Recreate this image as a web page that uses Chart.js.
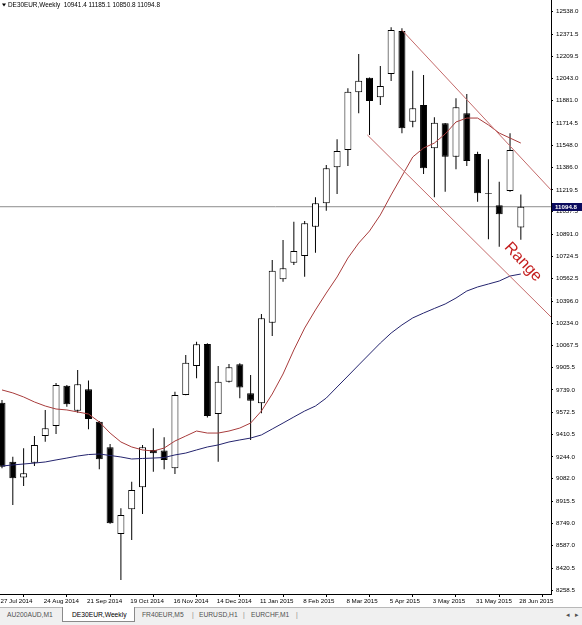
<!DOCTYPE html>
<html>
<head>
<meta charset="utf-8">
<script src="https://cdn.jsdelivr.net/npm/chart.js@4/dist/chart.umd.min.js"></script>
<style>
html,body{margin:0;padding:0;background:#fff;width:582px;height:625px;overflow:hidden;}
#wrap{position:absolute;left:0;top:0;width:582px;height:607px;}
#tabs{position:absolute;left:0;top:607px;width:582px;height:18px;background:#f0f0f0;border-top:1px solid #b8b8b8;box-sizing:border-box;font-family:"Liberation Sans",Arial,sans-serif;font-size:6.7px;color:#505050;}
#tabs span{position:absolute;top:3px;white-space:nowrap;}
#tabs .sep{color:#8a8a8a;}
#tabs .act{top:-1px;height:15px;line-height:15px;background:#fff;border:1px solid #8a8a8a;border-top:none;color:#000;padding:0 8px 0 9px;box-sizing:border-box;}
</style>
</head>
<body>
<div id="wrap"><canvas id="c" width="582" height="607"></canvas></div>
<div id="tabs">
  <span style="left:7px">AU200AUD,M1</span>
  <span class="act" style="left:62px;width:73px">DE30EUR,Weekly</span>
  <span style="left:142px">FR40EUR,M5</span>
  <span class="sep" style="left:192px">|</span>
  <span style="left:199px">EURUSD,H1</span>
  <span class="sep" style="left:243px">|</span>
  <span style="left:251px">EURCHF,M1</span>
  <span class="sep" style="left:296px">|</span>
  <span style="left:566px">&#9666;</span>
  <span style="left:575px">&#9656;</span>
</div>
<script>
// ---- data ----
const symbolTitle = 'DE30EUR,Weekly';
const dateLabels = ['27 Jul 2014','24 Aug 2014','21 Sep 2014','19 Oct 2014','16 Nov 2014','14 Dec 2014','11 Jan 2015','8 Feb 2015','8 Mar 2015','5 Apr 2015','3 May 2015','31 May 2015','28 Jun 2015'];
const priceTicks = [12538.0,12371.5,12209.5,12043.0,11881.0,11714.5,11548.0,11386.0,11219.5,11057.5,10891.0,10724.5,10562.5,10396.0,10234.0,10067.5,9905.5,9739.0,9572.5,9410.5,9244.0,9082.0,8915.5,8749.0,8587.0,8420.5,8258.5];

const opens  = [9645,9208,9092,9200,9398,9472,9770,9585,9744,9504,9315,8673,8856,9019,9295,9290,9159,9702,9916,10079,9561,9800,9929,9714,9640,10236,10558,10681,10730,10947,11120,11387,11515,11942,12050,11905,12077,12395,11724,11848,11527,11712,11465,11786,11485,11196,11105,11211,10941.4];
const highs  = [9665,9245,9307,9398,9591,9790,9775,9887,9808,9510,9339,8863,9060,9332,9455,9389,9726,9998,10096,10085,9916,9931,9936,9850,10301,10701,10849,10984,10989,11165,11404,11594,11971,12225,12052,12136,12423,12415,12101,12070,11757,11715,11897,11929,11502,11446,11280,11638,11185.1];
const lows   = [9160,8888,9028,9176,9356,9413,9615,9571,9448,9152,8748,8333,8629,8821,9134,9152,9117,9700,9825,9536,9208,9795,9677,9369,9566,10138,10540,10664,10577,10755,11065,11189,11396,11786,11626,11848,12025,11638,11683,11337,11165,11206,11372,11396,11132,10854,10799,11206,10850.8];
const closes = [9171,9085,9122,9332,9455,9776,9633,9781,9524,9226,8752,8814,8999,9315,9270,9221,9702,9941,10077,9546,9800,9907,9758,9659,10269,10621,10639,10767,10972,11120,11379,11507,11946,12027,11877,11988,12403,11675,11823,11379,11717,11465,11831,11433,11194,11190,11039,11515,11094.8];

const maFast = [9739,9717,9687,9650,9620,9598,9591,9576,9561,9502,9420,9354,9317,9295,9287,9309,9361,9398,9435,9420,9420,9435,9457,9494,9583,9709,9857,10035,10197,10331,10456,10575,10715,10826,10915,11034,11182,11322,11463,11529,11566,11633,11722,11751,11751,11700,11640,11603,11566];
const maSlow = [9176,9184,9191,9198,9206,9221,9235,9250,9261,9265,9254,9243,9228,9232,9235,9239,9258,9272,9295,9317,9332,9354,9369,9383,9406,9450,9494,9539,9583,9620,9679,9761,9842,9924,10005,10086,10160,10220,10272,10308,10342,10375,10419,10471,10501,10523,10545,10582,10597];

// trend lines: [bar index, price]
const upperTrendX = [37.0, 50.79];
const upperTrendY = [12402, 11219];
const lowerTrendX = [33.8, 50.79];
const lowerTrendY = [11626, 10279];
const rangeLabel = {text:'Range', x:48.2, y:10686};

const xMin = -0.185, xMax = 50.79, yMin = 8229, yMax = 12624.6;
const lastIdx = closes.length - 1;

// ---- styles ----
const FONT = '"Liberation Sans", Arial, sans-serif';
const up = opens.map((o,i)=> closes[i] >= o);

const overlay = {
  id:'overlay',
  afterDraw(chart){
    const {ctx, scales:{x, y}, chartArea} = chart;
    ctx.save();
    // title
    ctx.fillStyle = '#000';
    ctx.beginPath(); ctx.moveTo(2,3.5); ctx.lineTo(6,3.5); ctx.lineTo(4,6.5); ctx.closePath(); ctx.fill();
    ctx.font = '6.4px ' + FONT;
    ctx.textBaseline = 'middle';
    ctx.textAlign = 'left';
    ctx.fillText(symbolTitle + '  ' + opens[lastIdx].toFixed(1) + ' ' + highs[lastIdx].toFixed(1) + ' ' + lows[lastIdx].toFixed(1) + ' ' + closes[lastIdx].toFixed(1), 8, 5.5);
    // Range label
    const rx = x.getPixelForValue(rangeLabel.x), ry = y.getPixelForValue(rangeLabel.y);
    ctx.save();
    ctx.beginPath(); ctx.rect(chartArea.left, chartArea.top, chartArea.right-chartArea.left, chartArea.bottom-chartArea.top); ctx.clip();
    ctx.translate(rx, ry);
    ctx.rotate(47*Math.PI/180);
    ctx.fillStyle = '#c41e1e';
    ctx.font = '16px ' + FONT;
    ctx.textAlign = 'center';
    ctx.textBaseline = 'middle';
    ctx.fillText(rangeLabel.text, 0, 0);
    ctx.restore();
    // current price box
    const py = Math.round(y.getPixelForValue(closes[lastIdx]));
    ctx.fillStyle = '#0b0b5e';
    ctx.fillRect(chartArea.right+1, py-4, 582-chartArea.right-1, 8);
    ctx.fillStyle = '#fff';
    ctx.font = 'bold 6.2px ' + FONT;
    ctx.textAlign = 'left';
    ctx.textBaseline = 'middle';
    ctx.fillText(closes[lastIdx].toFixed(1), chartArea.right+4, py+0.5);
    ctx.restore();
  }
};

new Chart(document.getElementById('c'), {
  type:'bar',
  data:{
    datasets:[
      { type:'line', order:6, data:[{x:xMin,y:closes[lastIdx]},{x:xMax,y:closes[lastIdx]}], borderColor:'#8c8c8c', borderWidth:1, pointRadius:0 },
      { type:'bar', order:5, grouped:false, barThickness:1, inflateAmount:0, borderWidth:0,
        data: highs.map((h,i)=>({x:i, y:[lows[i], h]})), backgroundColor:'#000' },
      { type:'bar', order:4, grouped:false, barThickness:7, inflateAmount:0, borderWidth:1, borderSkipped:false, borderColor:'#000',
        data: opens.map((o,i)=>({x:i, y:[o, closes[i]]})), backgroundColor: up.map(u=> u ? '#fff' : '#000') },
      { type:'line', order:3, data: maFast.map((v,i)=>({x:i,y:v})), borderColor:'#a83c3c', borderWidth:1, pointRadius:0, tension:0 },
      { type:'line', order:2, data: maSlow.map((v,i)=>({x:i,y:v})), borderColor:'#24246e', borderWidth:1, pointRadius:0, tension:0 },
      { type:'line', order:1, data: upperTrendX.map((v,i)=>({x:v,y:upperTrendY[i]})), borderColor:'#c46a6a', borderWidth:1, pointRadius:0 },
      { type:'line', order:1, data: lowerTrendX.map((v,i)=>({x:v,y:lowerTrendY[i]})), borderColor:'#c46a6a', borderWidth:1, pointRadius:0 }
    ]
  },
  options:{
    responsive:false, animation:false, maintainAspectRatio:false,
    layout:{padding:0, autoPadding:false},
    plugins:{legend:{display:false}, tooltip:{enabled:false}, title:{display:false}},
    scales:{
      x:{ type:'linear', min:xMin, max:xMax, offset:false,
        afterBuildTicks: s => { s.ticks = dateLabels.map((_,k)=>({value:k*4})); },
        afterFit: s => { s.height = 13; s.paddingLeft = 0; s.paddingRight = 0; },
        ticks:{ autoSkip:false, maxRotation:0, minRotation:0, align:'start', padding:1, labelOffset:-1.5, color:'#000',
          font:{family:FONT, size:6.2}, callback:(v,i)=> dateLabels[i] },
        grid:{ drawOnChartArea:false, drawTicks:true, tickLength:3, color:'#000' },
        border:{ display:true, color:'#000', width:1 }
      },
      y:{ type:'linear', position:'right', min:yMin, max:yMax,
        afterBuildTicks: s => { s.ticks = priceTicks.map(v=>({value:v})); },
        afterFit: s => { s.width = 31; s.paddingTop = 0; s.paddingBottom = 0; },
        ticks:{ autoSkip:false, padding:3, color:'#000', font:{family:FONT, size:6.2},
          callback:(v)=> Number(v).toFixed(1) },
        grid:{ drawOnChartArea:false, drawTicks:true, tickLength:2, color:'#000' },
        border:{ display:true, color:'#000', width:1 }
      }
    }
  },
  plugins:[overlay]
});
</script>
</body>
</html>
